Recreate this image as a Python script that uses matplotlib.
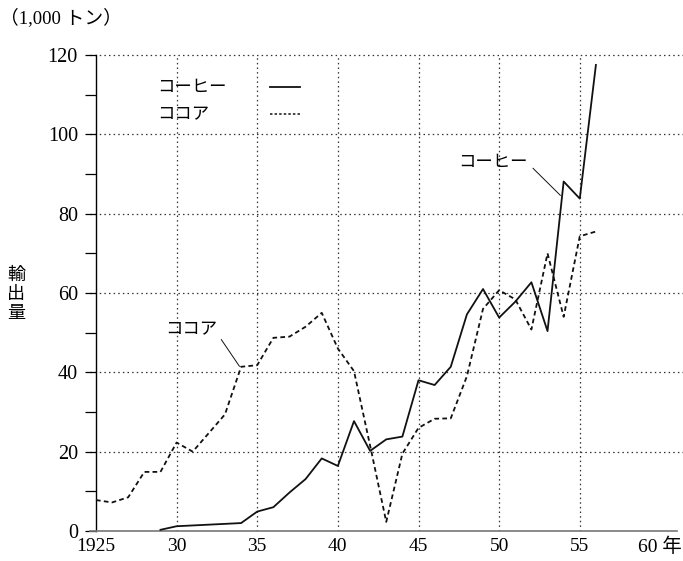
import matplotlib
matplotlib.use("Agg")
import matplotlib.pyplot as plt
from matplotlib.lines import Line2D
from matplotlib.ticker import MultipleLocator

plt.rcParams['font.family'] = ['Liberation Serif', 'Noto Sans CJK JP', 'DejaVu Sans']

# coffee: 1929-1956
coffee_years = list(range(1929, 1957))
coffee = [0.3, 1.2, 1.4, 1.6, 1.8, 2.0, 4.9, 6.0, 9.7, 13.1, 18.3, 16.4,
          27.7, 20.2, 23.1, 23.8, 38.0, 36.8, 41.4, 54.6, 61.0, 53.8,
          57.8, 62.7, 50.4, 88.1, 83.8, 117.5]

# cocoa: 1925-1956
cocoa_years = list(range(1925, 1957))
cocoa = [7.8, 7.2, 8.5, 14.9, 14.9, 22.3, 20.0, 24.7, 29.4, 41.4, 41.8,
         48.7, 49.0, 51.5, 55.0, 46.0, 40.3, 21.5, 2.3, 19.5, 26.0, 28.3,
         28.4, 39.0, 56.0, 60.7, 58.4, 50.8, 70.0, 54.0, 74.3, 75.5]

xtick_pos = [1925, 1930, 1935, 1940, 1945, 1950, 1955, 1960]
xtick_lab = ["1925", "30", "35", "40", "45", "50", "55", "60 年"]
grid_x = [1930, 1935, 1940, 1945, 1950, 1955]

jp = 'Noto Sans CJK JP'
dash = (0, (2.6, 1.8))
dot = (0, (1.2, 2.5))

fig = plt.figure(figsize=(6.83, 5.61), dpi=100)
ax = fig.add_axes([89.5/683, 30/561, 593.5/683, 476/561])

ax.set_xlim(1924.6, 1961.4)
ax.set_ylim(0, 120)

# grid
for g in grid_x:
    ax.axvline(g, color='#333333', lw=0.9, ls=dot, zorder=1)
for g in range(20, 121, 20):
    ax.axhline(g, color='#333333', lw=0.9, ls=dot, zorder=1, clip_on=False)

ax.plot(coffee_years, coffee, color='#111111', lw=1.3, zorder=3)
ax.plot(cocoa_years, cocoa, color='#111111', lw=1.3, ls=dash, zorder=3)

# spines
for s in ['top', 'right']:
    ax.spines[s].set_visible(False)
ax.spines['left'].set_position(('data', 1925))
ax.spines['left'].set_bounds(0, 120)
ax.spines['left'].set_linewidth(1.0)
ax.spines['bottom'].set_bounds(1924.6, 1961)
ax.spines['bottom'].set_color('#777777')
ax.spines['bottom'].set_linewidth(1.2)

ax.yaxis.set_major_locator(MultipleLocator(20))
ax.yaxis.set_minor_locator(MultipleLocator(10))
ax.tick_params(axis='y', which='both', length=8, width=0.9, direction='out', pad=5, labelsize=14.5)
ax.set_xticks(xtick_pos)
ax.set_xticklabels(xtick_lab)
ax.tick_params(axis='x', length=0, pad=5, labelsize=14)

# legend: label first, then line sample
leg_rows = [('コーヒー', '-', 0.933), ('ココア', (0, (1.6, 1.4)), 0.876)]
for lab, st, yy in leg_rows:
    ax.text(0.114, yy, lab, transform=ax.transAxes, ha='left', va='center',
            family=jp, fontsize=12.5)
    ax.add_line(Line2D([0.304, 0.355], [yy, yy], transform=ax.transAxes,
                       color='#111111', lw=1.3 if st == '-' else 1.1, ls=st))

ax.annotate('コーヒー', xy=(1953.8, 84.6), xytext=(1951.8, 93.1),
            ha='right', va='center', family=jp, fontsize=12.5,
            arrowprops=dict(arrowstyle='-', lw=0.7, color='#111111', relpos=(1, 0.4),
                            shrinkA=2, shrinkB=0))
ax.annotate('ココア', xy=(1933.9, 41.5), xytext=(1932.5, 50.8),
            ha='right', va='center', family=jp, fontsize=12.5,
            arrowprops=dict(arrowstyle='-', lw=0.7, color='#111111', relpos=(1, 0.3),
                            shrinkA=2, shrinkB=0))

fig.text(16/683, 1 - 294/561, '輸\n出\n量', ha='center', va='center',
         family=jp, fontsize=13, linespacing=1.05)
fig.text(0, 1 - 18/561, '（1,000 トン）', ha='left', va='center', fontsize=13.5)

fig.savefig('out.png', dpi=100)
